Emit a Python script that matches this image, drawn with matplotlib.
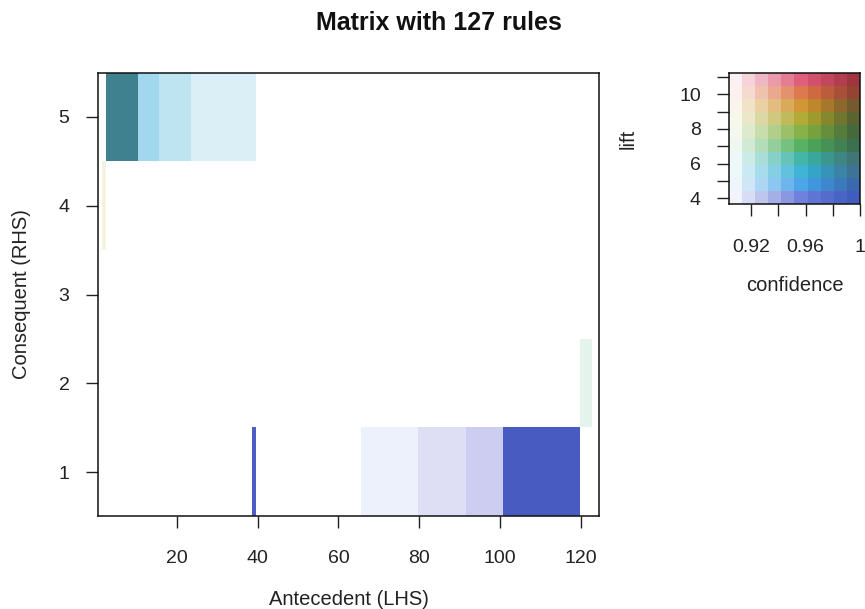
import matplotlib.pyplot as plt
import numpy as np
from matplotlib.colors import to_rgb

plt.rcParams["font.family"] = ["Liberation Sans", "DejaVu Sans"]

# rule blocks: consecutive LHS columns sharing one colour
block_rhs = [5, 5, 5, 5, 4, 1, 1, 1, 1, 1, 2]
block_lhs_from = [3, 11, 16, 24, 2, 39, 66, 80, 92, 101, 120]
block_lhs_to = [10, 15, 23, 39, 2, 39, 79, 91, 100, 119, 122]
block_conf = [0.990, 0.930, 0.922, 0.914, 0.912, 0.985, 0.910, 0.917, 0.924, 0.990, 0.912]
block_lift = [6.0, 5.3, 5.4, 5.6, 8.7, 3.8, 4.2, 3.8, 3.8, 3.9, 6.7]

n_lhs = 124
n_rhs = 5
n_rules = 127

x_ticks = [20, 40, 60, 80, 100, 120]
y_ticks = [1, 2, 3, 4, 5]

# colour key ranges
conf_range = (0.904, 1.0)
lift_range = (3.67, 11.21)
key_conf_ticks = [0.92, 0.94, 0.96, 0.98, 1.0]
key_conf_labels = ["0.92", "", "0.96", "", "1"]
key_lift_ticks = [4, 5, 6, 7, 8, 9, 10, 11]
key_lift_labels = ["4", "", "6", "", "8", "", "10", ""]

# hue anchors along lift: saturated colour (mid confidence) and dark colour (top confidence)
anchor_lift = [3.67, 4, 5, 6, 7, 8, 9, 10, 11.21]
anchor_mid = ["#7a72d8", "#6a78d8", "#38aaea", "#30b4c0", "#4aae5e",
              "#8cae38", "#c8a020", "#dc7440", "#dc4a8c"]
anchor_dark = ["#3a48b0", "#3a58bc", "#3a66a0", "#45707e", "#3a6a50",
               "#3e5e38", "#5a5a30", "#8a4030", "#a02840"]
conf_mid = 0.96


def lift_colour(lift, anchors):
    rgb = np.array([to_rgb(c) for c in anchors])
    return np.array([np.interp(lift, anchor_lift, rgb[:, i]) for i in range(3)])


def rule_colour(conf, lift):
    mid = lift_colour(lift, anchor_mid)
    dark = lift_colour(lift, anchor_dark)
    if conf <= conf_mid:
        t = (conf - conf_range[0]) / (conf_mid - conf_range[0])
        t = min(max(t, 0.0), 1.0)
        return (1 - t) * np.ones(3) + t * mid
    t = min((conf - conf_mid) / (conf_range[1] - conf_mid), 1.0)
    return (1 - t) * mid + t * dark


# rgba grid for the matrix, transparent where there is no rule
grid = np.zeros((n_rhs, n_lhs, 4))
for rhs, lo, hi, conf, lift in zip(block_rhs, block_lhs_from, block_lhs_to, block_conf, block_lift):
    grid[rhs - 1, lo - 1:hi, :3] = rule_colour(conf, lift)
    grid[rhs - 1, lo - 1:hi, 3] = 1.0

fig = plt.figure(figsize=(8.65, 6.09), dpi=100)
text_col = "#222222"
tick_size = 14
label_size = 14.5

ax = fig.add_axes([0.1133, 0.152, 0.5792, 0.7288])
ax.imshow(grid, extent=(0.5, n_lhs + 0.5, 0.5, n_rhs + 0.5), origin="lower",
          aspect="auto", interpolation="nearest")
ax.set_xlim(0.5, n_lhs + 0.5)
ax.set_ylim(0.5, n_rhs + 0.5)
ax.set_xticks(x_ticks)
ax.set_yticks(y_ticks)
ax.tick_params(direction="out", length=8.5, width=1, pad=12, labelsize=tick_size,
               colors=text_col, labelcolor=text_col)
ax.tick_params(axis="x", pad=16)
ax.set_xlabel("Antecedent (LHS)", fontsize=label_size, color=text_col, labelpad=16)
ax.set_ylabel("Consequent (RHS)", fontsize=label_size, color=text_col, labelpad=20)
for s in ax.spines.values():
    s.set_linewidth(1.1)
    s.set_color("#111111")

fig.text(0.508, 0.962, f"Matrix with {n_rules} rules", ha="center", va="center",
         fontsize=18, fontweight="bold", color="#111111")

# 2D colour key: confidence across, lift up
kx = fig.add_axes([0.8431, 0.665, 0.1511, 0.2146])
conf_edges = np.linspace(conf_range[0], conf_range[1], 11)
lift_edges = np.linspace(lift_range[0], lift_range[1], 11)
conf_mids = (conf_edges[:-1] + conf_edges[1:]) / 2
lift_mids = (lift_edges[:-1] + lift_edges[1:]) / 2
key = np.array([[rule_colour(c, l) for c in conf_mids] for l in lift_mids])
kx.imshow(key, extent=(conf_range[0], conf_range[1], lift_range[0], lift_range[1]),
          origin="lower", aspect="auto", interpolation="nearest")
kx.set_xlim(*conf_range)
kx.set_ylim(*lift_range)
kx.set_xticks(key_conf_ticks)
kx.set_xticklabels(key_conf_labels)
kx.set_yticks(key_lift_ticks)
kx.set_yticklabels(key_lift_labels)
kx.tick_params(direction="out", length=8.5, width=1, pad=12, labelsize=tick_size,
               colors=text_col, labelcolor=text_col)
kx.tick_params(axis="x", pad=17)
kx.set_xlabel("confidence", fontsize=label_size, color=text_col, labelpad=14)
kx.set_ylabel("lift", fontsize=label_size, color=text_col, labelpad=30)
for s in kx.spines.values():
    s.set_linewidth(1.1)
    s.set_color("#111111")

fig.savefig("out.png", dpi=100)
